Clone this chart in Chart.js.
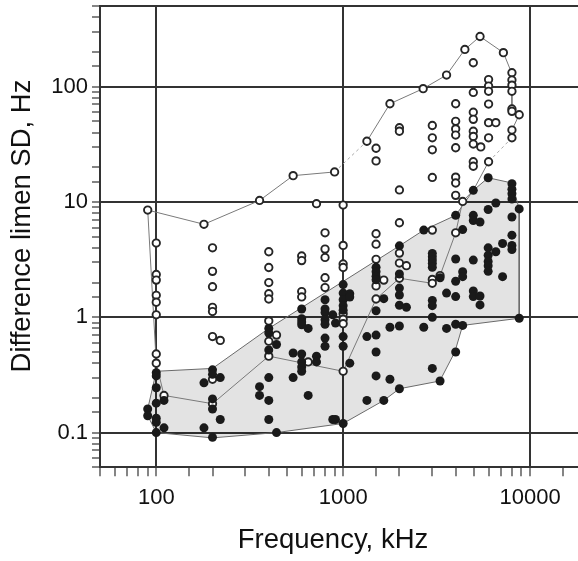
<!DOCTYPE html>
<html>
<head>
<meta charset="utf-8">
<script src="https://cdn.jsdelivr.net/npm/chart.js@4.4.1/dist/chart.umd.min.js"></script>
<style>
html,body{margin:0;padding:0;background:#fff;overflow:hidden;}
#wrap{width:620px;height:561px;position:relative;}
</style>
</head>
<body>
<div id="wrap"><canvas id="c" width="620" height="561"></canvas></div>
<script>
// ---- tick labels ----
const xTickLabels = [100, 1000, 10000];
const yTickLabels = [0.1, 1, 10, 100];

// ---- open circles (frequency, SD) ----
const openF = [
  90, 180, 357, 540, 720, 900,
  100,100,100,100,100,100,100,100,
  110,
  200,200,200,200,200,200,200,200,
  220,
  400,400,400,400,400,400,400,400,
  440,
  600,600,600,600,
  650,
  800,800,800,800,800,
  1000,1000,1000,1000,1000,1000,1000,1000,
  1340,
  1500,1500,1500,1500,1500,1500,1500,
  1650, 1780,
  2000,2000,2000,2000,2000,2000,2000,
  2180, 2680,
  3000,3000,3000,3000,3000,3000,3000,
  3300, 3575,
  4000,4000,4000,4000,4000,4000,4000,4000,4000,
  4360, 4480,
  4970,4970,4970,4970,4970,4970,4970,4970,4970,
  5400, 5450,
  6000,6000,6000,6000,6000,6000,6000,
  6560, 7200,
  8000,8000,8000,8000,8000,8000,8000,8000,
  8750
];
const openSD = [
  8.5, 6.4, 10.3, 16.9, 9.65, 18.2,
  4.4, 2.35, 2.1, 1.55, 1.35, 1.05, 0.48, 0.40,
  0.21,
  4.0, 2.5, 1.84, 1.22, 1.12, 0.68, 0.29, 0.178,
  0.63,
  3.7, 2.7, 2.0, 1.6, 1.44, 0.93, 0.62, 0.46,
  0.70,
  3.4, 3.1, 1.67, 1.5,
  0.41,
  5.4, 3.9, 3.3, 2.2, 1.81,
  9.4, 4.2, 2.9, 2.7, 1.07, 0.96, 0.88, 0.34,
  33.6,
  29.2, 22.7, 5.3, 4.3, 3.18, 1.87, 1.44,
  2.1, 71,
  44, 41, 12.7, 6.6, 3.6, 2.95, 2.18,
  2.8, 96,
  46, 36, 28.3, 16.3, 5.7, 2.13, 1.97,
  2.3, 126,
  71, 50, 43, 38, 29.5, 16.4, 14.6, 11.4, 5.4,
  10.1, 210,
  161, 89, 60, 52, 41, 37, 31.8, 22.3, 20.4,
  272, 30,
  115, 101, 91, 70.6, 48.7, 36, 22.3,
  48.7, 197,
  132, 114, 103, 91, 64, 61, 42, 36,
  57
];

// ---- filled circles (frequency, SD) ----
const filledF = [
  90,90,
  100,100,100,100,100,100,100,
  110,110,
  180,180,
  200,200,200,200,200,
  220,220,
  357,357,
  400,400,400,400,400,400,
  440,440,
  540,540,
  600,600,600,600,600,600,600,600,
  650,650,
  720,720,
  800,800,800,800,800,800,800,
  880,880, 910,910,
  1000,1000,1000,1000,1000,1000,1000,1000,
  1085,1085,1085,
  1340,1340,
  1500,1500,1500,1500,1500,1500,1500,1500,
  1650,1650,
  1780,1780,
  2000,2000,2000,2000,2000,2000,2000,
  2180,
  2700,2700,
  3000,3000,3000,3000,3000,3000,3000,3000,3000,
  3300,3300,
  3575,3575,
  4000,4000,4000,4000,4000,4000,
  4360,4360,4360,4360,
  4970,4970,4970,4970,4970,4970,
  5400,5400,5400,
  5970,5970,5970,5970,5970,5970,5970,
  6560,6560,
  7130,7130,
  8000,8000,8000,8000,8000,8000,8000,8000,
  8750,8750
];
const filledSD = [
  0.16, 0.14,
  0.33, 0.31, 0.245, 0.18, 0.133, 0.123, 0.10,
  0.19, 0.11,
  0.27, 0.11,
  0.35, 0.32, 0.196, 0.16, 0.091,
  0.30, 0.13,
  0.25, 0.21,
  0.80, 0.73, 0.52, 0.30, 0.19, 0.13,
  0.58, 0.10,
  0.49, 0.30,
  1.18, 0.97, 0.91, 0.86, 0.48, 0.41, 0.37, 0.34,
  0.80, 0.21,
  0.46, 0.41,
  1.42, 1.18, 1.1, 0.95, 0.87, 0.66, 0.56,
  1.05, 0.13, 0.89, 0.13,
  1.92, 1.62, 1.42, 1.26, 1.15, 0.68, 0.56, 0.12,
  1.6, 1.5, 0.40,
  0.68, 0.19,
  2.71, 2.48, 2.27, 2.11, 1.14, 0.70, 0.50, 0.31,
  1.45, 0.19,
  0.82, 0.29,
  4.16, 2.37, 1.79, 1.56, 1.27, 0.84, 0.24,
  1.22,
  5.7, 0.82,
  3.57, 3.34, 3.13, 2.93, 2.71, 1.40, 1.26, 1.0, 0.36,
  2.2, 0.28,
  1.62, 0.80,
  7.65, 3.2, 2.05, 1.51, 0.87, 0.50,
  5.76, 2.48, 2.25, 0.85,
  12.6, 7.65, 6.9, 3.13, 1.69, 1.51,
  6.7, 1.53, 1.28,
  16.2, 8.6, 4.0, 3.45, 3.05, 2.8, 2.5,
  9.8, 3.7,
  4.36, 2.25,
  14.4, 12.9, 11.8, 10.6, 7.4, 5.15, 4.2, 3.87,
  8.7, 0.98
];

// ---- envelope of open circles (closed outline) ----
const openEnvF = [90, 180, 357, 540, 900, 1340, 1780, 2680, 3575, 4480, 5400, 7200, 7960, 8000, 8750, 8000, 8000, 6000, 4970, 4360, 4000, 3300, 3000, 2000, 1500, 1000, 400, 200, 110, 100, 90];
const openEnvSD = [8.5, 6.4, 10.3, 16.9, 18.2, 33.6, 71, 96, 126, 210, 272, 197, 132, 64, 57, 42, 36, 22.3, 12.6, 10.1, 5.4, 2.3, 1.97, 2.18, 1.44, 0.34, 0.46, 0.178, 0.21, 0.40, 8.5];
const openEnvDashed = [4, 16];

// ---- shaded envelope of filled circles ----
const hullF = [100, 200, 400, 2000, 2700, 4000, 4970, 5970, 8000, 8750, 8750, 4360, 3960, 3290, 2000, 1650, 1000, 440, 200, 100, 90, 90, 100];
const hullSD = [0.34, 0.36, 0.80, 4.16, 5.7, 7.65, 12.6, 16.2, 14.6, 8.7, 0.98, 0.85, 0.50, 0.28, 0.24, 0.19, 0.12, 0.10, 0.09, 0.10, 0.14, 0.16, 0.34];

const FONT = '"Liberation Sans", Arial, Helvetica, sans-serif';
const pts = (f, d) => f.map((v, i) => ({x: v, y: d[i]}));
const isDecade = v => v > 0 && Math.abs(Math.log10(v) - Math.round(Math.log10(v))) < 1e-6;
const near = (v, list) => list.find(t => Math.abs(v / t - 1) < 1e-6);
const GRID = '#333';

const titlePlugin = {
  id: 'axisTitles',
  afterDraw(chart) {
    const c = chart.ctx;
    c.save();
    c.fillStyle = '#111';
    c.font = '27.5px ' + FONT;
    c.textAlign = 'center';
    c.textBaseline = 'middle';
    c.fillText('Frequency, kHz', 333, 540);
    c.translate(22, 226);
    c.rotate(-Math.PI / 2);
    c.fillText('Difference limen SD, Hz', 0, 0);
    c.restore();
  }
};

new Chart(document.getElementById('c'), {
  type: 'scatter',
  data: {
    datasets: [
      {
        label: 'filled',
        data: pts(filledF, filledSD),
        pointRadius: 4.5,
        pointBackgroundColor: '#1a1a1a',
        pointBorderColor: '#1a1a1a',
        pointBorderWidth: 0
      },
      {
        label: 'open',
        data: pts(openF, openSD),
        pointRadius: 3.7,
        pointBackgroundColor: '#ffffff',
        pointBorderColor: '#262626',
        pointBorderWidth: 1.9
      },
      {
        type: 'line',
        label: 'open envelope',
        data: pts(openEnvF, openEnvSD),
        showLine: true,
        fill: false,
        tension: 0,
        pointRadius: 0,
        borderColor: '#7a7a7a',
        borderWidth: 1,
        segment: {
          borderDash: ctx => openEnvDashed.includes(ctx.p0DataIndex) ? [3, 3] : undefined,
          borderColor: ctx => openEnvDashed.includes(ctx.p0DataIndex) ? '#aaaaaa' : undefined
        }
      },
      {
        type: 'line',
        label: 'filled envelope',
        data: pts(hullF, hullSD),
        showLine: true,
        fill: 'shape',
        tension: 0,
        pointRadius: 0,
        borderColor: '#6a6a6a',
        borderWidth: 1,
        backgroundColor: 'rgba(0,0,0,0.11)'
      }
    ]
  },
  options: {
    responsive: false,
    animation: false,
    events: [],
    layout: {padding: {left: 0, top: 6, right: 33.7, bottom: 0}},
    plugins: {legend: {display: false}, tooltip: {enabled: false}},
    scales: {
      x: {
        type: 'logarithmic',
        min: 50,
        max: 20000,
        afterFit(s) { s.height = 93.7; s.paddingLeft = 0; s.paddingRight = 0; },
        border: {display: true, color: GRID, width: 2},
        grid: {
          color: c => (c.tick && isDecade(c.tick.value)) ? GRID : 'rgba(0,0,0,0)',
          lineWidth: 2,
          tickColor: GRID,
          tickWidth: 1.2,
          tickLength: 9,
          drawTicks: true
        },
        ticks: {
          autoSkip: false,
          maxRotation: 0,
          padding: 8,
          color: '#111',
          font: {family: FONT, size: 22},
          callback: v => { const t = near(v, xTickLabels); return t ? String(t) : ''; }
        }
      },
      y: {
        type: 'logarithmic',
        min: 0.05,
        max: 500,
        afterFit(s) { s.width = 100; s.paddingTop = 0; s.paddingBottom = 0; },
        border: {display: true, color: GRID, width: 2},
        grid: {
          color: c => (c.tick && (isDecade(c.tick.value) || c.tick.value >= 499)) ? GRID : 'rgba(0,0,0,0)',
          lineWidth: 2,
          tickColor: GRID,
          tickWidth: 1.2,
          tickLength: 8,
          drawTicks: true
        },
        ticks: {
          autoSkip: false,
          padding: 4,
          color: '#111',
          font: {family: FONT, size: 22},
          callback: v => { const t = near(v, yTickLabels); return t ? String(t) : ''; }
        }
      }
    }
  },
  plugins: [titlePlugin]
});
</script>
</body>
</html>
